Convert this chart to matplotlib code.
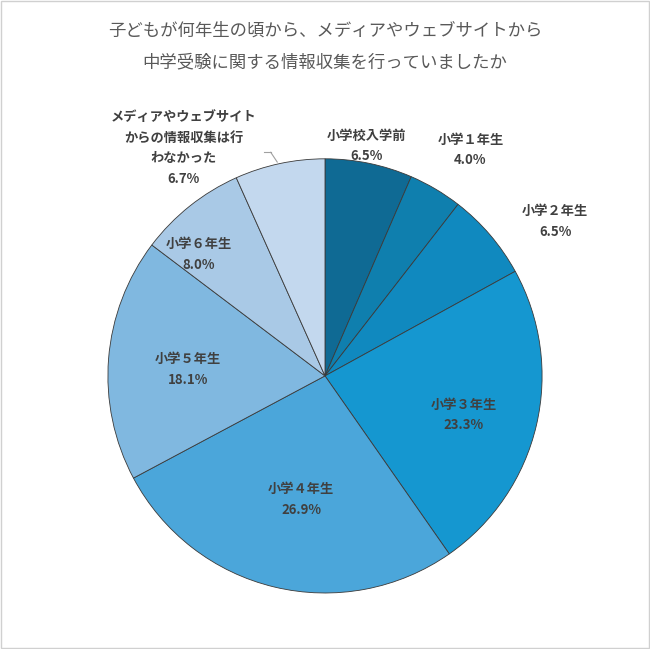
import matplotlib
matplotlib.use("Agg")
import matplotlib.pyplot as plt
from matplotlib.patches import Rectangle

plt.rcParams['font.family'] = ['Noto Sans CJK JP', 'DejaVu Sans']

categories = ["小学校入学前", "小学１年生", "小学２年生", "小学３年生", "小学４年生",
              "小学５年生", "小学６年生", "メディアやウェブサイト\nからの情報収集は行\nわなかった"]
values = [6.5, 4.0, 6.5, 23.3, 26.9, 18.1, 8.0, 6.7]
colors = ["#0f6a94", "#0f7fae", "#1089bf", "#1597d0", "#4ba6da", "#80b8e0", "#a9c9e6", "#c3d8ee"]
# label positions in pie radius units
label_pos = [(0.19, 1.06), (0.67, 1.04), (1.06, 0.71), (0.64, -0.18), (-0.11, -0.57),
             (-0.63, 0.03), (-0.58, 0.56), (-0.65, 1.05)]

fig = plt.figure(figsize=(6.5, 6.49), dpi=100)
fig.patches.append(Rectangle((0.002, 0.002), 0.996, 0.996, transform=fig.transFigure,
                             fill=False, edgecolor="#d0d0d0", linewidth=1))
fig.text(0.5, 0.953, "子どもが何年生の頃から、メディアやウェブサイトから",
         ha="center", va="center", fontsize=12.5, color="#595959")
fig.text(0.5, 0.904, "中学受験に関する情報収集を行っていましたか",
         ha="center", va="center", fontsize=12.5, color="#595959")

ax = fig.add_axes([0.166, 0.0863, 0.668, 0.669])
ax.pie(values, colors=colors, startangle=90, counterclock=False, radius=1,
       wedgeprops=dict(edgecolor="#3a3a3a", linewidth=0.6))
ax.set_xlim(-1, 1)
ax.set_ylim(-1, 1)
ax.axis("off")

for cat, v, (x, y) in zip(categories, values, label_pos):
    ax.text(x, y, f"{cat}\n{v:.1f}%", ha="center", va="center", fontsize=9.5,
            fontweight="bold", color="#404040", linespacing=1.6)

ax.plot([-0.22, -0.25], [0.985, 1.03], color="#a0a0a0", linewidth=0.8, clip_on=False)
ax.plot([-0.25, -0.28], [1.03, 1.03], color="#a0a0a0", linewidth=0.8, clip_on=False)

fig.savefig("out.png", dpi=100)
